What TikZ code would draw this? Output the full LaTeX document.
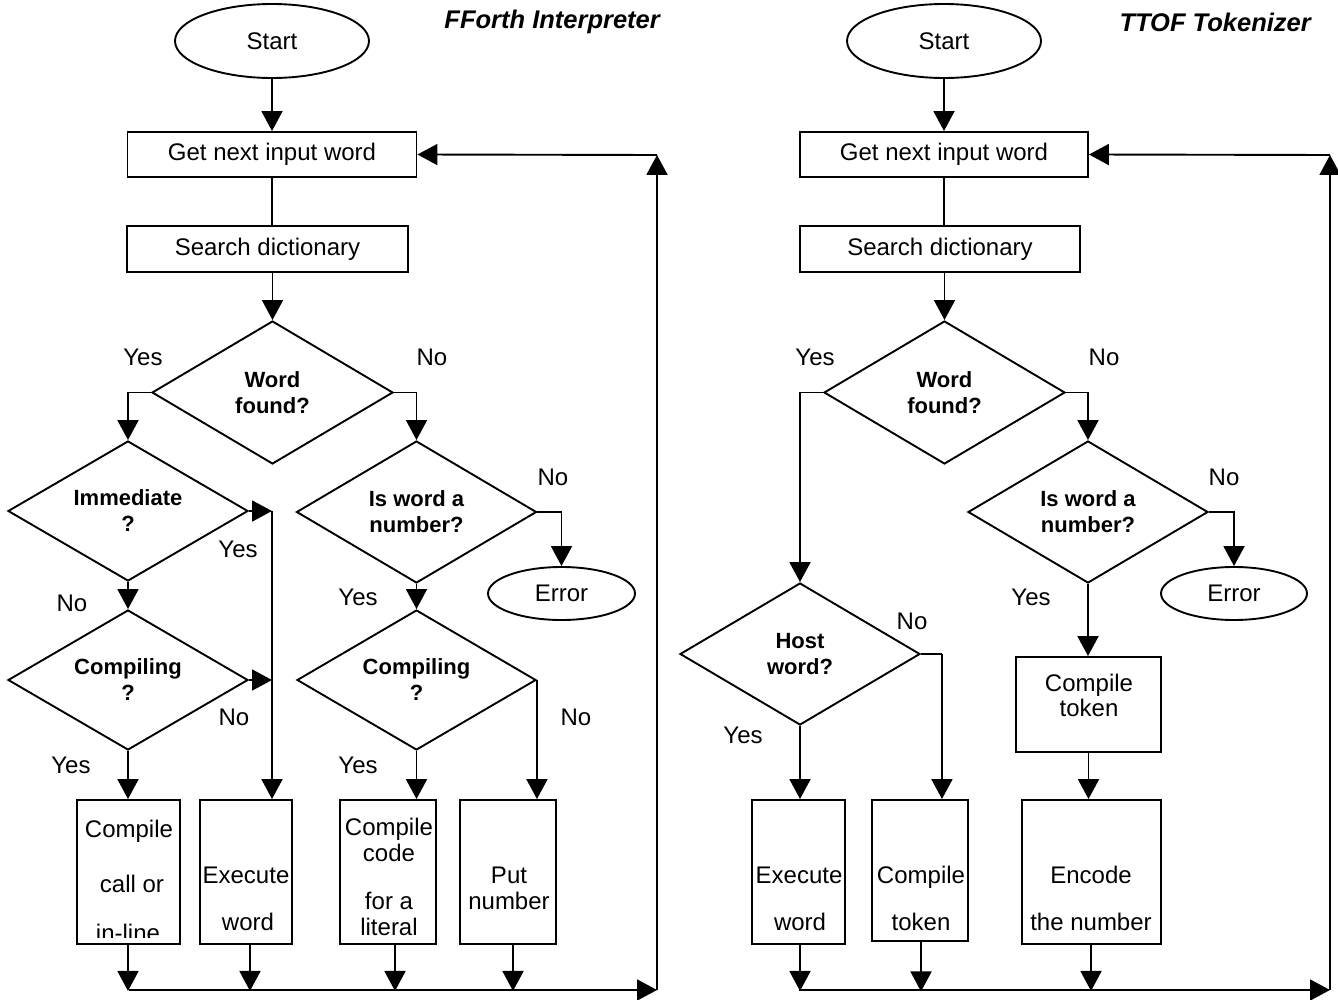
\documentclass[tikz,border=0pt]{standalone}
\usepackage{fontspec}
\setmainfont{Liberation Sans}
\usetikzlibrary{arrows.meta,shapes.geometric}
\newcommand\regf{\fontsize{24}{28}\selectfont}
\newcommand\bldf{\fontsize{22}{26}\selectfont\bfseries}
\newcommand\ttlf{\fontsize{25.5}{29}\selectfont\bfseries\itshape}
\tikzset{
  ln/.style={line width=1.9pt},
  arr/.style={ln,-{Triangle[length=20pt,width=21pt]}},
  proc/.style={draw,ln,rectangle,inner sep=0pt,font=\regf},
  term/.style={draw,ln,ellipse,inner sep=0pt,font=\regf},
  dec/.style={draw,ln,diamond,aspect=1.7,inner sep=0pt,align=center,font=\bldf},
  txt/.style={inner sep=0pt,text height=17pt,text depth=0pt,font=\regf},
  ttl/.style={inner sep=0pt,anchor=east,font=\ttlf}
}
\begin{document}
\begin{tikzpicture}[x=1pt,y=-1pt]
\useasboundingbox (0,0) rectangle (1338,1000);
% ---------------- titles
\node[ttl] (t1) at (660,22) {FForth Interpreter};
\node[ttl] (t2) at (1311,22) {TTOF Tokenizer};
% ---------------- left chart
\node[term,minimum width=194,minimum height=74] (s1) at (272,41) {Start};
\node[proc,minimum width=289,minimum height=45] (g1) at (272,154.5) {Get next input word};
\node[proc,minimum width=281,minimum height=46] (d1) at (267.5,249) {Search dictionary};
\node[dec,minimum width=241,minimum height=143] (w1) at (272.5,392.5) {Word\\found?};
\node[dec,minimum width=240,minimum height=140] (im) at (128,511) {Immediate\\?};
\node[dec,minimum width=240,minimum height=142] (n1) at (416.5,512) {Is word a\\number?};
\node[term,minimum width=147,minimum height=53] (e1) at (561.5,593.5) {Error};
\node[dec,minimum width=240,minimum height=140] (c1) at (128,680) {Compiling\\?};
\node[dec,minimum width=239,minimum height=140] (c2) at (416.5,680) {Compiling\\?};
\node[proc,minimum width=103,minimum height=144] (b1) at (128.5,872) {};
\node[proc,minimum width=92,minimum height=144] (b2) at (246,872) {};
\node[proc,minimum width=96,minimum height=144] (b3) at (388,872) {};
\node[proc,minimum width=96,minimum height=144] (b4) at (508,872) {};
% box texts
\node[txt] (b1a) at (129,829) {Compile};
\node[txt] (b1b) at (132,884) {call or};
\begin{scope}
  \clip (78,801) rectangle (179,937);
  \node[txt] (b1c) at (128,932.5) {in-line};
\end{scope}
\node[txt] (b2a) at (246,875) {Execute};
\node[txt] (b2b) at (248,922) {word};
\node[txt] (b3a) at (389,827) {Compile};
\node[txt] (b3b) at (389,853) {code};
\node[txt] (b3c) at (389,901) {for a};
\node[txt] (b3d) at (389,927) {literal};
\node[txt] (b4a) at (509,875) {Put};
\node[txt] (b4b) at (509,901) {number};
% connectors
\draw[arr] (s1.south) -- (s1.south |- g1.north);
\draw[ln] (g1.south) -- (g1.south |- d1.north);
\draw[arr] (w1.north |- d1.south) -- (w1.north);
\draw[arr] (w1.west) -| (im.north);
\draw[arr] (w1.east) -| (n1.north);
\coordinate (j1) at (272,511);
\draw[arr] (im.east) -- (j1);
\draw[arr] (j1) -- (j1 |- b2.north);
\draw[arr] (c1.east) -- (c1.east -| j1);
\draw[arr] (im.south) -- (c1.north);
\draw[arr] (c1.south) -- (c1.south |- b1.north);
\draw[arr] (n1.east) -| (e1.north);
\draw[arr] (n1.south) -- (c2.north);
\draw[arr] (c2.south) -- (c2.south |- b3.north);
\draw[arr] (c2.east) -- (c2.east |- b4.north);
\coordinate (cr1) at (657,990);
\coordinate (ct1) at (657,155);
\draw[arr] ([xshift=-0.5pt]b1.south) -- ++(0,46);
\draw[arr] ([xshift=4pt]b2.south) -- ++(0,46);
\draw[arr] ([xshift=7pt]b3.south) -- ++(0,46);
\draw[arr] ([xshift=5pt]b4.south) -- ++(0,46);
\draw[arr] (b1.south |- cr1) -- (cr1);
\draw[arr] (cr1) -- (ct1);
\draw[arr] (ct1) -- (g1.east);
% labels
\node[txt] (l1) at (143,357) {Yes};
\node[txt] (l2) at (432,357) {No};
\node[txt] (l3) at (553,477) {No};
\node[txt] (l4) at (238,549) {Yes};
\node[txt] (l5) at (72,603) {No};
\node[txt] (l6) at (358,597) {Yes};
\node[txt] (l7) at (234,717) {No};
\node[txt] (l8) at (576,717) {No};
\node[txt] (l9) at (71,765) {Yes};
\node[txt] (l10) at (358,765) {Yes};
% ---------------- right chart
\node[term,minimum width=194,minimum height=74] (s2) at (944,41) {Start};
\node[proc,minimum width=288,minimum height=45] (g2) at (944,154.5) {Get next input word};
\node[proc,minimum width=280,minimum height=46] (d2) at (940,249) {Search dictionary};
\node[dec,minimum width=241,minimum height=143] (w2) at (944.5,392.5) {Word\\found?};
\node[dec,minimum width=240,minimum height=142] (h2) at (800,654) {Host\\word?};
\node[dec,minimum width=240,minimum height=142] (n2) at (1088,512) {Is word a\\number?};
\node[term,minimum width=146,minimum height=53] (e2) at (1234,593.5) {Error};
\node[proc,minimum width=145,minimum height=95] (cb) at (1088.5,704.5) {};
\node[proc,minimum width=139,minimum height=144] (eb) at (1091.5,872) {};
\node[proc,minimum width=93,minimum height=144] (xb) at (798.5,872) {};
\node[proc,minimum width=96,minimum height=141] (tb) at (920,870.5) {};
\node[txt] (cba) at (1089,683) {Compile};
\node[txt] (cbb) at (1089,708) {token};
\node[txt] (eba) at (1091,875) {Encode};
\node[txt] (ebb) at (1091,922) {the number};
\node[txt] (xba) at (799,875) {Execute};
\node[txt] (xbb) at (800,922) {word};
\node[txt] (tba) at (921,875) {Compile};
\node[txt] (tbb) at (921,922) {token};
% connectors
\draw[arr] (s2.south) -- (s2.south |- g2.north);
\draw[ln] (g2.south) -- (g2.south |- d2.north);
\draw[arr] (w2.north |- d2.south) -- (w2.north);
\draw[arr] (w2.west) -| (h2.north);
\draw[arr] (w2.east) -| (n2.north);
\draw[arr] (n2.east) -| (e2.north);
\draw[arr] (n2.south) -- (n2.south |- cb.north);
\draw[arr] (cb.south) -- (cb.south |- eb.north);
\draw[arr] (h2.south) -- (h2.south |- xb.north);
\draw[ln] (h2.east) -- ++(21,0) coordinate (hk);
\draw[arr] (hk) -- (hk |- tb.north);
\coordinate (cr2) at (1330,990);
\coordinate (ct2) at (1330,155);
\draw[arr] ([xshift=1.5pt]xb.south) -- ++(0,46);
\draw[arr] ([xshift=1pt]tb.south) -- ++(0,49.5);
\draw[arr] ([xshift=-0.5pt]eb.south) -- ++(0,46);
\draw[arr] (xb.south |- cr2) -- (cr2);
\draw[arr] (cr2) -- (ct2);
\draw[arr] (ct2) -- (g2.east);
% labels
\node[txt] (r1) at (815,357) {Yes};
\node[txt] (r2) at (1104,357) {No};
\node[txt] (r3) at (1224,477) {No};
\node[txt] (r4) at (1031,597) {Yes};
\node[txt] (r5) at (912,621) {No};
\node[txt] (r6) at (743,735) {Yes};
\end{tikzpicture}
\end{document}
